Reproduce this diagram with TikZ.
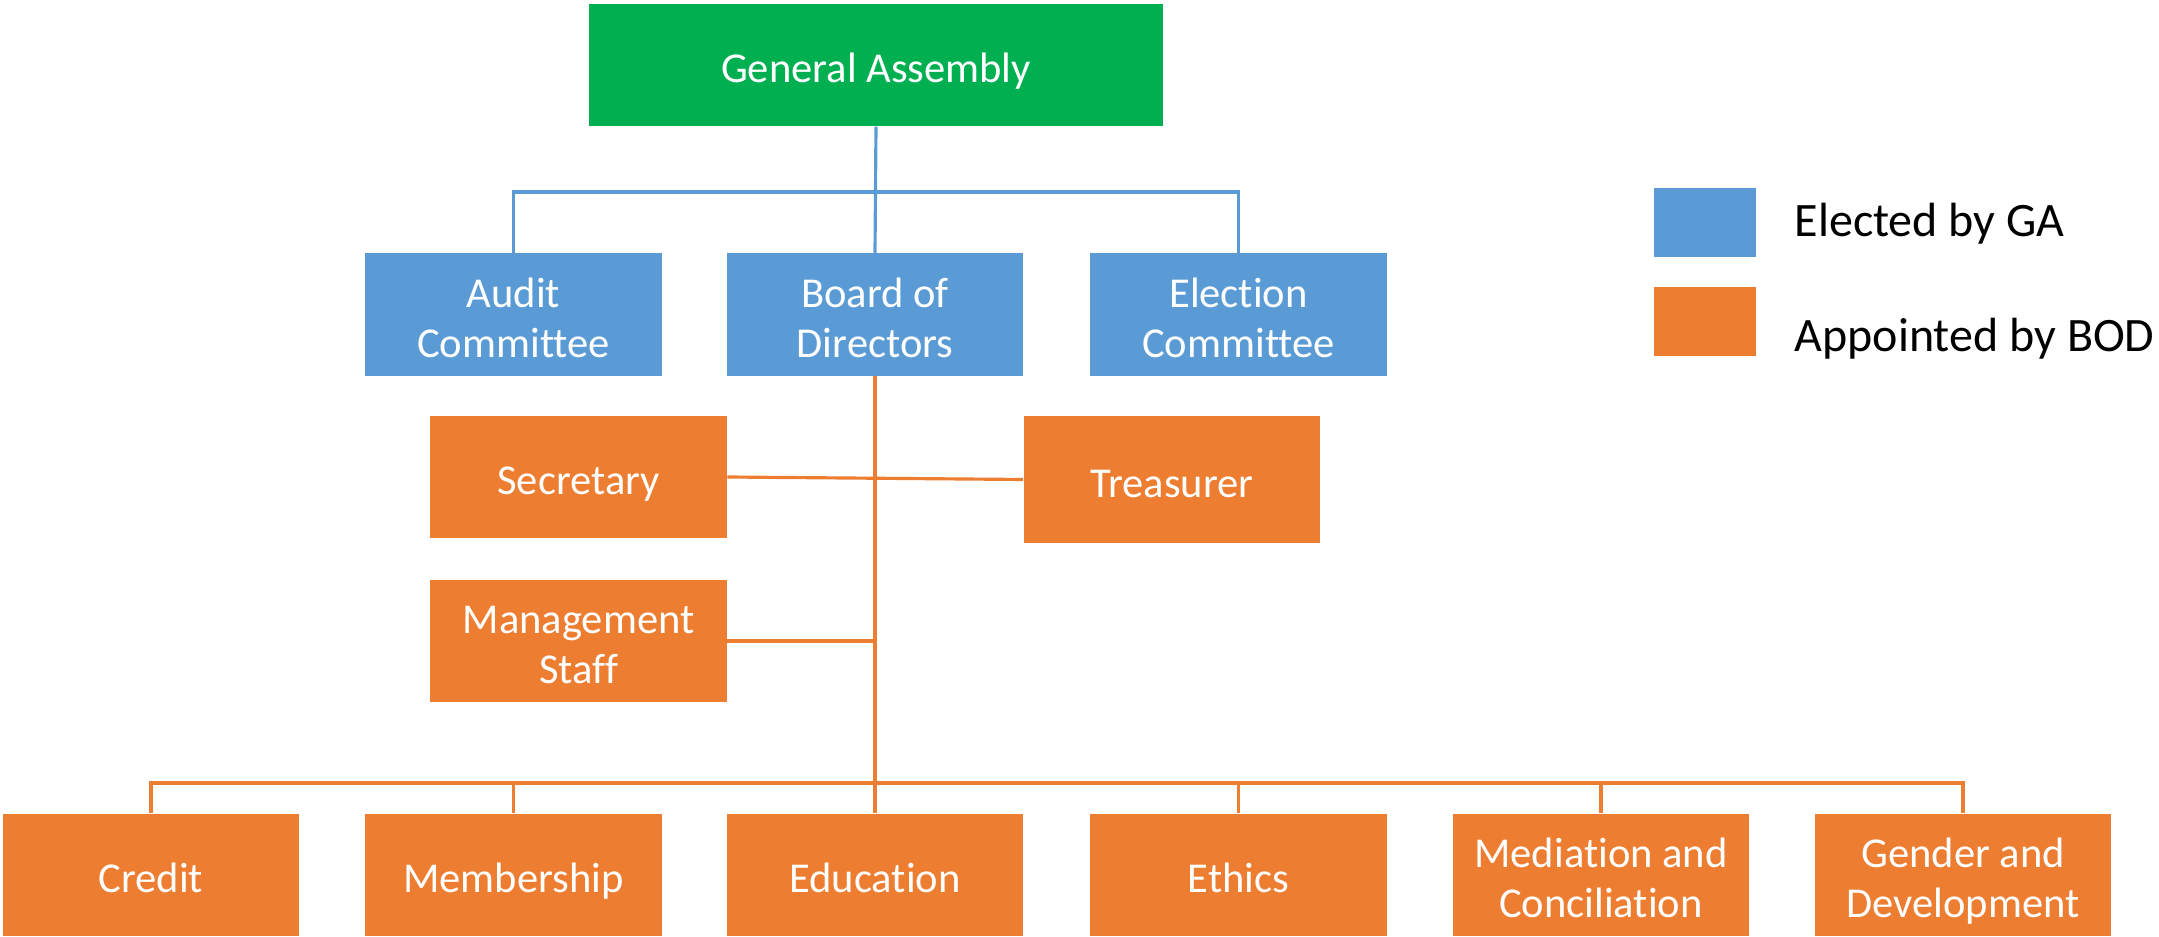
\documentclass[tikz,border=0pt]{standalone}
\usepackage{fontspec}
\setmainfont[Ligatures=NoCommon]{Carlito}

\definecolor{gagreen}{HTML}{00B050}
\definecolor{elblue}{HTML}{5B9BD5}
\definecolor{aporange}{HTML}{ED7D31}

\tikzset{
  unitbox/.style={rectangle, inner sep=0pt, text=white, align=center,
    minimum width=2.96cm, minimum height=1.22cm,
    font=\fontsize{12.1}{14.2}\selectfont,
    text height=14.26pt, text depth=4.26pt},
  twoline/.style={text height=28.46pt},
  gabox/.style={unitbox, fill=gagreen, minimum width=5.74cm},
  electbox/.style={unitbox, twoline, fill=elblue},
  appbox/.style={unitbox, fill=aporange},
  keybox/.style={rectangle, inner sep=0pt, minimum width=1.02cm, minimum height=0.69cm},
  keytext/.style={anchor=base west, inner sep=0pt, font=\fontsize{13.65}{16}\selectfont},
  blueline/.style={draw=elblue, line width=0.9pt},
  orangeline/.style={draw=aporange, line width=0.9pt}
}

\begin{document}
\begin{tikzpicture}[x=0.01cm, y=-0.01cm]
  \useasboundingbox (0,0) rectangle (2159,937);

  % top
  \node[gabox] (ga) at (876, 65) {General Assembly};

  % elected by the GA
  \node[electbox] (audit)    at (513.5, 314.5) {Audit\\Committee};
  \node[electbox] (board)    at (875, 314.5)   {Board of\\Directors};
  \node[electbox] (election) at (1238.5, 314.5) {Election\\Committee};

  % appointed by the board
  \node[appbox] (secretary)  at (578.5, 477)  {Secretary};
  \node[appbox, minimum height=1.27cm] (treasurer) at (1172, 479.5) {Treasurer};
  \node[appbox, twoline] (management) at (578.5, 641)  {Management\\Staff};

  % committees
  \node[appbox] (credit)     at (151, 875)    {Credit};
  \node[appbox] (membership) at (513.5, 875)  {Membership};
  \node[appbox] (education)  at (875, 875)    {Education};
  \node[appbox] (ethics)     at (1238.5, 875) {Ethics};
  \node[appbox, twoline] (mediation) at (1601, 875) {Mediation and\\Conciliation};
  \node[appbox, twoline] (gender)    at (1963, 875) {Gender and\\Development};

  % legend
  \node[keybox, fill=elblue]   (keyblue)   at (1705, 222.5) {};
  \node[keybox, fill=aporange] (keyorange) at (1705, 321.5) {};
  \node[keytext] (keyelect) at (1794, 237) {Elected by GA};
  \node[keytext] (keyapp)   at (1794, 352) {Appointed by BOD};

  % blue lines
  \coordinate (bluebus) at (875, 192);
  \draw[blueline] (ga.south) -- (board.north);
  \draw[blueline] (audit.north) |- (bluebus) -| (election.north);

  % orange lines
  \coordinate (orangebus) at (875, 783);
  \draw[orangeline] (board.south) -- (education.north);
  \draw[orangeline] (secretary.east) -- (treasurer.west);
  \draw[orangeline] (management.east) -- (management.east -| board.south);
  \draw[orangeline] (credit.north) |- (orangebus) -| (gender.north);
  \draw[orangeline] (membership.north) -- (membership.north |- orangebus);
  \draw[orangeline] (ethics.north) -- (ethics.north |- orangebus);
  \draw[orangeline] (mediation.north) -- (mediation.north |- orangebus);
\end{tikzpicture}
\end{document}
